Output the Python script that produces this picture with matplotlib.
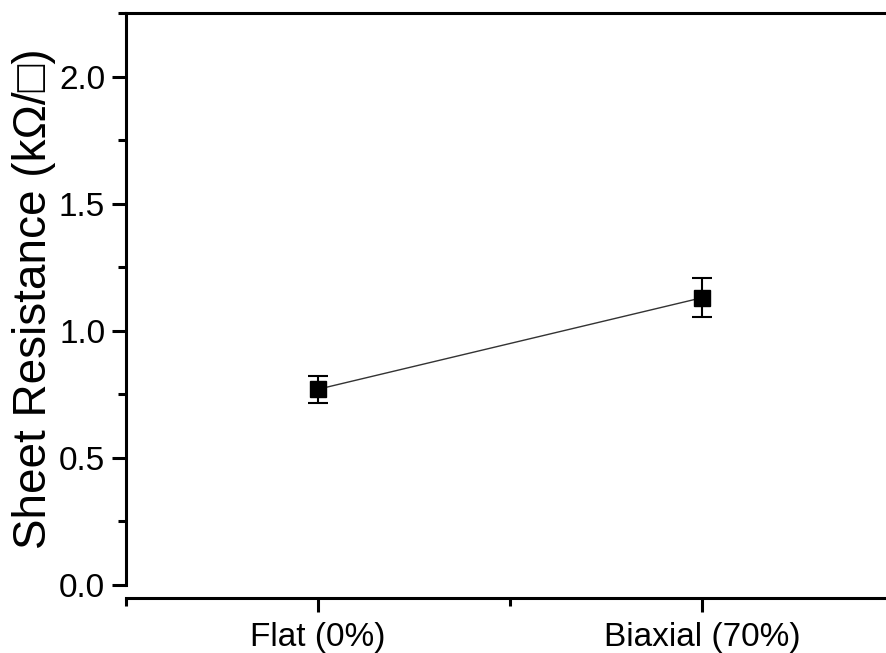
import matplotlib
matplotlib.use("Agg")
import matplotlib.pyplot as plt
from matplotlib.ticker import MultipleLocator, FormatStrFormatter

plt.rcParams['font.family'] = ['Liberation Sans', 'DejaVu Sans']

samples = ['Flat (0%)', 'Biaxial (70%)']
positions = [1, 2]
resistance = [0.77, 1.13]
resistance_err = [0.053, 0.077]

fig = plt.figure(figsize=(8.86, 6.53), dpi=100)
ax = fig.add_axes([0.1422, 0.1041, 0.8668, 0.876])

ax.plot(positions, resistance, color='#333333', lw=1.0, zorder=2)
ax.errorbar(positions, resistance, yerr=resistance_err, fmt='s', color='black',
            ms=12, ecolor='black', elinewidth=1.5, capsize=7, capthick=1.5, zorder=3)

ax.set_xlim(0.5, 2.5)
ax.set_ylim(0, 2.25)
ax.set_xticks(positions)
ax.set_xticklabels(samples)
ax.xaxis.set_minor_locator(MultipleLocator(0.5))
ax.yaxis.set_major_locator(MultipleLocator(0.5))
ax.yaxis.set_minor_locator(MultipleLocator(0.25))
ax.yaxis.set_major_formatter(FormatStrFormatter('%.1f'))

for s in ax.spines.values():
    s.set_linewidth(2.2)
ax.spines['bottom'].set_position(('outward', 9.5))

ax.tick_params(which='major', direction='out', length=10, width=2.2,
               labelsize=24, pad=5, top=False, right=False)
ax.tick_params(which='minor', direction='out', length=5.5, width=2.2,
               top=False, right=False)
ax.tick_params(axis='x', which='major', pad=7)

ax.set_ylabel('Sheet Resistance (k\u03a9/\u25a1)', fontsize=33, labelpad=2)

fig.savefig('out.png', dpi=100)
